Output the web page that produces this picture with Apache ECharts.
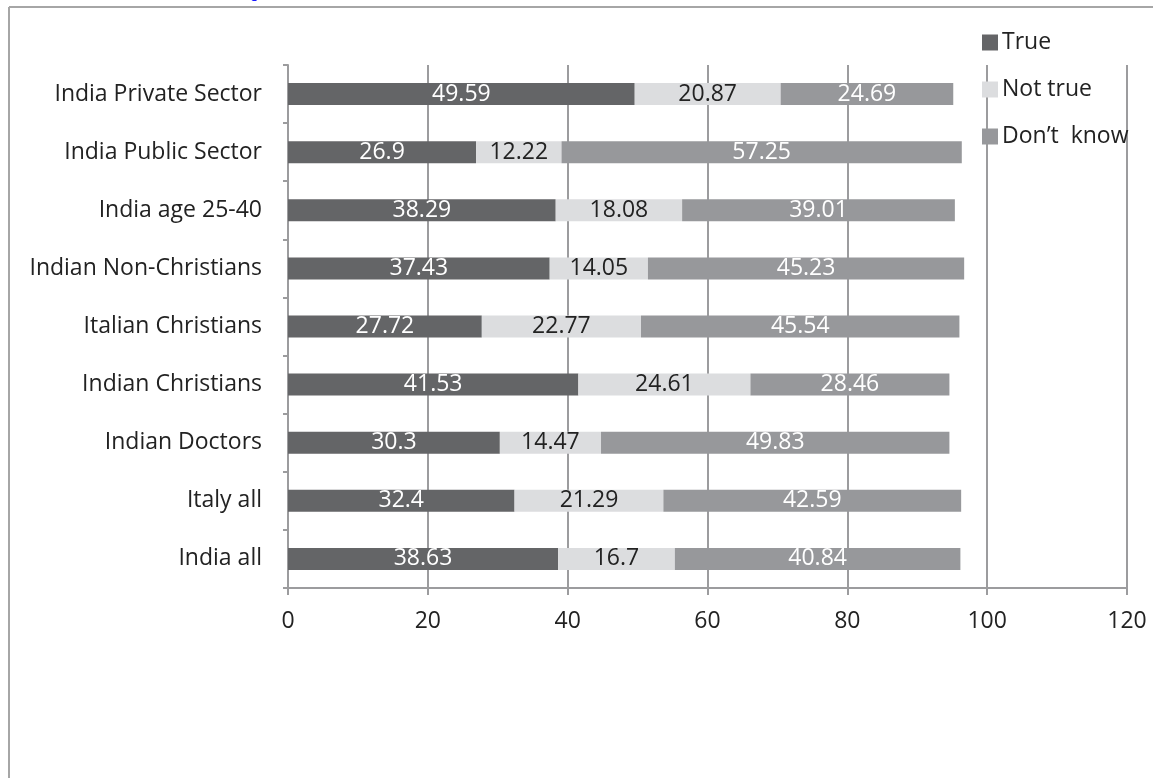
<!DOCTYPE html>
<html><head><meta charset="utf-8">
<script src="https://cdn.jsdelivr.net/npm/echarts@6/dist/echarts.min.js"></script>
<style>html,body{margin:0;padding:0;background:#fff}#c{width:1153px;height:778px}</style>
</head><body><div id="c"></div>
<script>
const categories = ["India all","Italy all","Indian Doctors","Indian Christians","Italian Christians","Indian Non-Christians","India age 25-40","India Public Sector","India Private Sector"];
const trueVals = [38.63,32.4,30.3,41.53,27.72,37.43,38.29,26.9,49.59];
const notTrueVals = [16.7,21.29,14.47,24.61,22.77,14.05,18.08,12.22,20.87];
const dontKnowVals = [40.84,42.59,49.83,28.46,45.54,45.23,39.01,57.25,24.69];
const xTicks = {min:0,max:120,interval:20};

const FONT = 'Open Sans';
const FS = 23;
const chart = echarts.init(document.getElementById('c'));
const mk = (name, data, color, labelColor) => ({
  name, type:'bar', stack:'s', data, barWidth:22,
  itemStyle:{color},
  label:{show:true, position:'inside', color:labelColor, fontFamily:FONT, fontSize:FS},
  emphasis:{disabled:true}
});
chart.setOption({
  animation:false,
  textStyle:{fontFamily:FONT},
  grid:{left:288, right:26, top:65, bottom:190, containLabel:false},
  legend:{
    orient:'vertical', left:982, top:31, padding:0, itemGap:24, itemWidth:16, itemHeight:16,
    icon:'rect', itemStyle:{borderWidth:0},
    textStyle:{fontFamily:FONT, fontSize:FS, color:'#222', padding:[0,0,0,-1]},
    data:['True','Not true','Don\u2019t  know']
  },
  xAxis:{
    type:'value', min:xTicks.min, max:xTicks.max, interval:xTicks.interval,
    axisLine:{show:true, lineStyle:{color:'#9c9c9e', width:2}},
    axisTick:{show:true, length:7, lineStyle:{color:'#9c9c9e', width:2}},
    axisLabel:{fontFamily:FONT, fontSize:FS, color:'#222', margin:22},
    splitLine:{show:true, lineStyle:{color:'#9c9c9e', width:2}}
  },
  yAxis:{
    type:'category', data:categories,
    axisLine:{show:true, lineStyle:{color:'#9c9c9e', width:2}},
    axisTick:{show:true, length:5, lineStyle:{color:'#9c9c9e', width:2}},
    axisLabel:{fontFamily:FONT, fontSize:FS, color:'#222', margin:26},
    splitLine:{show:false}
  },
  graphic:[
    {type:'line', shape:{x1:9,y1:7,x2:9,y2:778}, style:{stroke:'#a6a6a6', lineWidth:2}},
    {type:'line', shape:{x1:9,y1:7,x2:1153,y2:7}, style:{stroke:'#a6a6a6', lineWidth:2}},
    {type:'text', left:250, top:-14, style:{text:'g', fill:'#1a1aff', fontFamily:'Liberation Sans', fontSize:16}}
  ],
  series:[
    mk('True', trueVals, '#646567', '#ffffff'),
    mk('Not true', notTrueVals, '#dcdddf', '#222222'),
    mk('Don\u2019t  know', dontKnowVals, '#97989b', '#ffffff')
  ]
});
</script></body></html>
